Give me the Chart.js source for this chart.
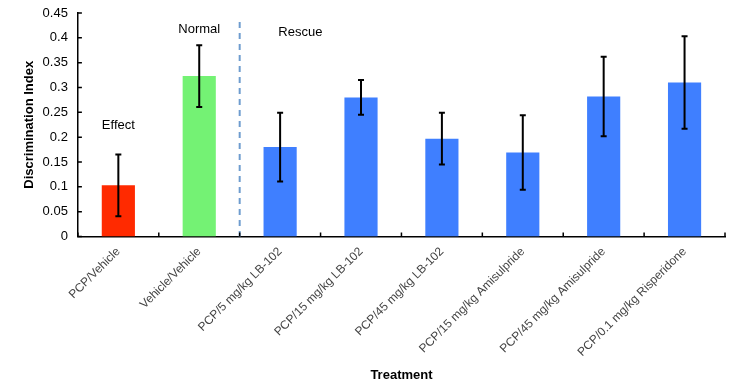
<!DOCTYPE html>
<html>
<head>
<meta charset="utf-8">
<script src="https://cdn.jsdelivr.net/npm/chart.js@4/dist/chart.umd.min.js"></script>
<style>
  body { margin: 0; background: #fff; }
  #wrap { width: 732px; height: 383px; }
</style>
</head>
<body>
<div id="wrap"><canvas id="chart"></canvas></div>
<script>
var categories = [
    'PCP/Vehicle',
    'Vehicle/Vehicle',
    'PCP/5 mg/kg LB-102',
    'PCP/15 mg/kg LB-102',
    'PCP/45 mg/kg LB-102',
    'PCP/15 mg/kg Amisulpride',
    'PCP/45 mg/kg Amisulpride',
    'PCP/0.1 mg/kg Risperidone'
];
var means = [0.103, 0.323, 0.180, 0.280, 0.197, 0.169, 0.282, 0.310];
var errors = [0.062, 0.062, 0.069, 0.035, 0.052, 0.075, 0.080, 0.093];
var barColors = ['#ff2a00', '#74f274', '#3f7fff', '#3f7fff', '#3f7fff', '#3f7fff', '#3f7fff', '#3f7fff'];

// group notes: text, category position, y value
var notes = [
    {text: 'Effect', pos: 0, y: 0.224},
    {text: 'Normal', pos: 1, y: 0.417},
    {text: 'Rescue', pos: 2.25, y: 0.411}
];

var FONT = '"Liberation Sans", Arial, Helvetica, sans-serif';

function xAt(scale, pos) {
    var i = Math.floor(pos);
    var a = scale.getPixelForValue(i);
    var b = scale.getPixelForValue(i + 1);
    return a + (pos - i) * (b - a);
}

var extrasPlugin = {
    id: 'extras',
    afterDatasetsDraw: function(chart) {
        var ctx = chart.ctx;
        var xs = chart.scales.x;
        var ys = chart.scales.y;
        var area = chart.chartArea;
        var meta = chart.getDatasetMeta(0);

        ctx.save();
        // error bars
        ctx.strokeStyle = '#000';
        ctx.lineWidth = 2;
        meta.data.forEach(function(bar, i) {
            var x = bar.x;
            var t = ys.getPixelForValue(means[i] + errors[i]);
            var b = ys.getPixelForValue(means[i] - errors[i]);
            ctx.beginPath();
            ctx.moveTo(x, t); ctx.lineTo(x, b);
            ctx.moveTo(x - 3, t); ctx.lineTo(x + 3, t);
            ctx.moveTo(x - 3, b); ctx.lineTo(x + 3, b);
            ctx.stroke();
        });

        // dashed separator between Normal and Rescue groups
        var sx = xAt(xs, 1.5);
        ctx.strokeStyle = '#6e9ccf';
        ctx.lineWidth = 2;
        ctx.setLineDash([6, 5]);
        ctx.beginPath();
        ctx.moveTo(sx, area.top + 9);
        ctx.lineTo(sx, area.bottom);
        ctx.stroke();
        ctx.setLineDash([]);

        // inside ticks
        ctx.strokeStyle = '#000';
        ctx.lineWidth = 1.5;
        ctx.beginPath();
        for (var k = 0; k <= categories.length; k++) {
            var tx = xAt(xs, k - 0.5);
            ctx.moveTo(tx, area.bottom);
            ctx.lineTo(tx, area.bottom - 4);
        }
        ys.ticks.forEach(function(tk) {
            var ty = ys.getPixelForValue(tk.value);
            ctx.moveTo(area.left, ty);
            ctx.lineTo(area.left + 4, ty);
        });
        ctx.stroke();

        // group notes
        ctx.fillStyle = '#000';
        ctx.font = '13px ' + FONT;
        ctx.textAlign = 'center';
        ctx.textBaseline = 'middle';
        notes.forEach(function(n) {
            ctx.fillText(n.text, xAt(xs, n.pos), ys.getPixelForValue(n.y));
        });
        ctx.restore();
    }
};

new Chart(document.getElementById('chart'), {
    type: 'bar',
    data: {
        labels: categories,
        datasets: [{
            data: means,
            backgroundColor: barColors,
            barPercentage: 0.41,
            categoryPercentage: 1
        }]
    },
    options: {
        responsive: true,
        maintainAspectRatio: false,
        animation: false,
        layout: {padding: {top: 13, right: 7, left: 17, bottom: 0}},
        plugins: {
            legend: {display: false},
            tooltip: {enabled: false}
        },
        scales: {
            x: {
                grid: {display: false, drawTicks: false},
                border: {color: '#000', width: 1.5},
                ticks: {
                    color: '#444',
                    font: {family: FONT, size: 12},
                    minRotation: 45,
                    maxRotation: 45,
                    padding: 8
                },
                title: {
                    display: true,
                    text: 'Treatment',
                    color: '#000',
                    font: {family: FONT, size: 13, weight: 'bold'},
                    padding: {top: 0, bottom: 0}
                }
            },
            y: {
                min: 0,
                max: 0.45,
                // tick padding would otherwise push the plot area down
                afterFit: function(scale) { scale.paddingTop = 0; },
                grid: {display: false, drawTicks: false},
                border: {color: '#000', width: 1.5},
                ticks: {
                    stepSize: 0.05,
                    color: '#000',
                    padding: 10,
                    font: {family: FONT, size: 13},
                    callback: function(v) { return String(parseFloat(v.toFixed(2))); }
                },
                title: {
                    display: true,
                    text: 'Discrimination Index',
                    color: '#000',
                    font: {family: FONT, size: 13, weight: 'bold'},
                    padding: {top: 5, bottom: -5}
                }
            }
        }
    },
    plugins: [extrasPlugin]
});
</script>
</body>
</html>
